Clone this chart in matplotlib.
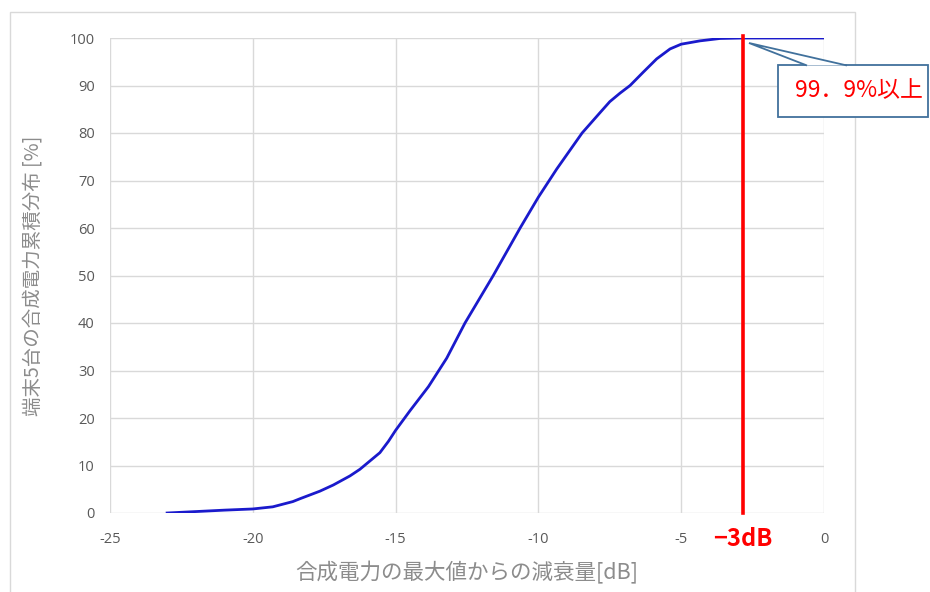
import matplotlib
matplotlib.use("Agg")
import matplotlib.pyplot as plt
from matplotlib.patches import Rectangle, Polygon

plt.rcParams['font.family'] = ['Noto Sans CJK JP', 'DejaVu Sans']
plt.rcParams['axes.unicode_minus'] = False

attenuation_db = [-23.0, -22.0, -21.0, -20.0, -19.3, -18.6, -18.35, -17.65, -17.18, -16.6,
                  -16.25, -15.55, -15.25, -15.0, -14.5, -13.85, -13.21, -12.57, -11.58, -10.64,
                  -10.0, -9.36, -8.47, -7.84, -7.5, -7.14, -6.79, -6.33, -5.86, -5.39,
                  -5.0, -4.34, -3.64, -2.83, 0.0]
cdf_percent = [0.0, 0.3, 0.6, 0.85, 1.3, 2.4, 3.0, 4.6, 5.9, 7.8,
               9.2, 12.7, 15.1, 17.4, 21.5, 26.6, 32.6, 40.0, 50.0, 60.0,
               66.5, 72.4, 80.0, 84.3, 86.6, 88.4, 90.0, 92.8, 95.6, 97.7,
               98.7, 99.4, 99.9, 100.0, 100.0]
x_ticks = [-25, -20, -15, -10, -5, 0]
y_ticks = [0, 10, 20, 30, 40, 50, 60, 70, 80, 90, 100]
marker_db = -2.83
callout_text = "99．9%以上"
marker_text = "−3dB"
x_label = "合成電力の最大値からの減衰量[dB]"
y_label = "端末5台の合成電力累積分布 [%]"

W, H = 930, 592
fig = plt.figure(figsize=(W / 100, H / 100), dpi=100)
ax = fig.add_axes([110 / W, 1 - 513 / H, (824 - 110) / W, (513 - 38) / H])

# outer chart border
fig.patches.append(Rectangle((10 / W, -0.05), (855 - 10) / W, 1 - 12 / H + 0.05,
                             transform=fig.transFigure, fill=False,
                             edgecolor='#d9d9d9', linewidth=1.0))

ax.plot(attenuation_db, cdf_percent, color='#1a1acc', linewidth=2.0, zorder=3,
        solid_joinstyle='round')
ax.axvline(marker_db, ymin=0, ymax=1.005, color='#ff0000', linewidth=2.6, zorder=4, clip_on=False)

ax.set_xlim(-25, 0)
ax.set_ylim(0, 100)
ax.set_xticks(x_ticks)
ax.set_yticks(y_ticks)
ax.grid(True, color='#d9d9d9', linewidth=1.0)
ax.set_axisbelow(True)
for s in ax.spines.values():
    s.set_visible(False)
ax.tick_params(length=0, labelsize=10.5, labelcolor='#595959')
ax.tick_params(axis='x', pad=14)
ax.tick_params(axis='y', pad=11)
for lab in ax.get_xticklabels() + ax.get_yticklabels():
    lab.set_family(['Open Sans', 'DejaVu Sans'])

ax.set_xlabel(x_label, fontsize=15.5, color='#8c8c8c', labelpad=10)
ax.set_ylabel(y_label, fontsize=14, color='#8c8c8c', labelpad=19)

# -3dB label
ax.text(marker_db, -3.0, marker_text, transform=ax.transData, ha='center', va='top',
        fontsize=17, fontweight='bold', color='#ff0000',
        family=['Liberation Sans Narrow', 'Noto Sans CJK JP', 'DejaVu Sans'])

# callout
def px(x, y):
    return (x / W, 1 - y / H)

box = Rectangle(px(778, 117), (928 - 778) / W, (117 - 65) / H, transform=fig.transFigure,
                facecolor='white', edgecolor='#41719c', linewidth=1.3, zorder=5)
fig.patches.append(box)
wedge = Polygon([px(807, 65.5), px(749, 43), px(847, 65.5)], closed=False,
                transform=fig.transFigure, facecolor='white', edgecolor='#41719c',
                linewidth=1.3, zorder=6)
fig.patches.append(wedge)
fig.text(859 / W, 1 - 91 / H, callout_text, ha='center', va='center',
         fontsize=16.5, color='#ff0000', zorder=7)

fig.savefig("out.png", dpi=100)
